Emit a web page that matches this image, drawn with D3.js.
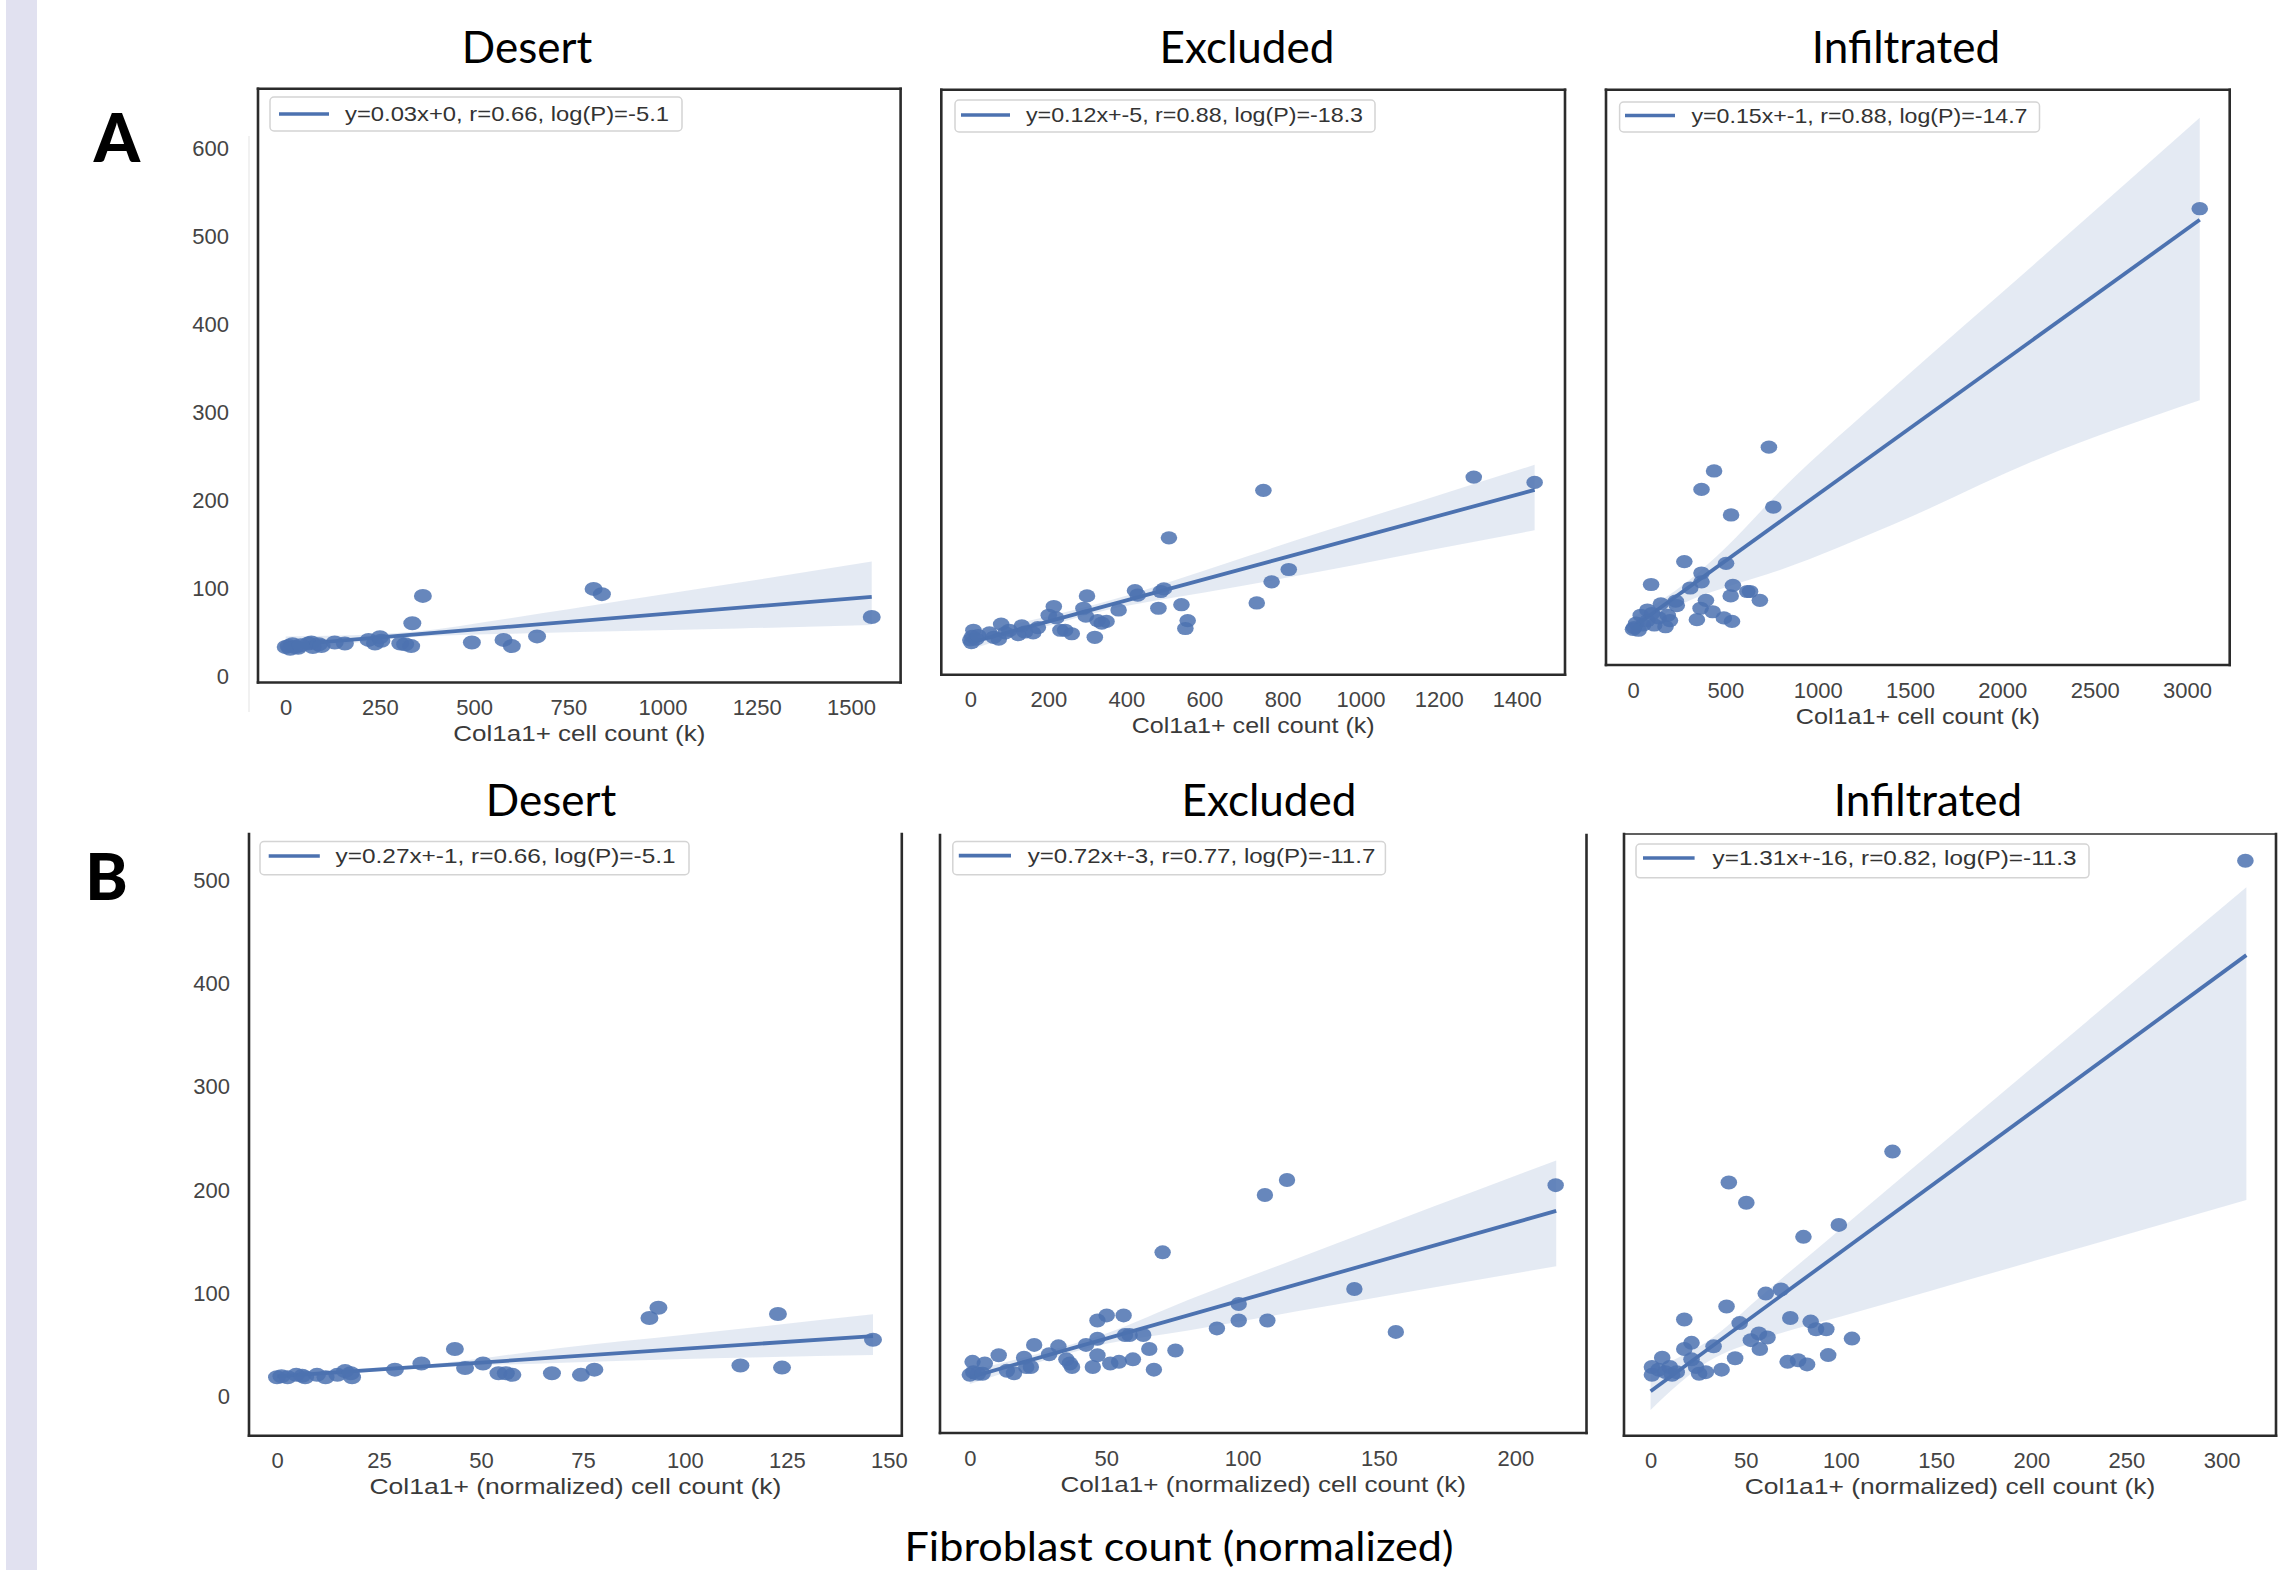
<!DOCTYPE html>
<html>
<head>
<meta charset="utf-8">
<script src="https://cdn.jsdelivr.net/npm/d3@7"></script>
<style>
  html, body { margin: 0; padding: 0; background: #fff; }
  svg { display: block; }
</style>
</head>
<body>
<svg id="chart" width="2285" height="1570"></svg>
<script>
// ---- data ----
const panelTitles = ["Desert", "Excluded", "Infiltrated"];
const rowLabels = ["A", "B"];
const legendA = ["y=0.03x+0, r=0.66, log(P)=-5.1", "y=0.12x+-5, r=0.88, log(P)=-18.3", "y=0.15x+-1, r=0.88, log(P)=-14.7"];
const legendB = ["y=0.27x+-1, r=0.66, log(P)=-5.1", "y=0.72x+-3, r=0.77, log(P)=-11.7", "y=1.31x+-16, r=0.82, log(P)=-11.3"];
const xLabelA = "Col1a1+ cell count (k)";
const xLabelB = "Col1a1+ (normalized) cell count (k)";
const supLabel = "Fibroblast count (normalized)";

const yTicksA = [0, 100, 200, 300, 400, 500, 600];
const yTicksB = [0, 100, 200, 300, 400, 500];
const xTicksADesert = [0, 250, 500, 750, 1000, 1250, 1500];
const xTicksAExcluded = [0, 200, 400, 600, 800, 1000, 1200, 1400];
const xTicksAInfiltrated = [0, 500, 1000, 1500, 2000, 2500, 3000];
const xTicksBDesert = [0, 25, 50, 75, 100, 125, 150];
const xTicksBExcluded = [0, 50, 100, 150, 200];
const xTicksBInfiltrated = [0, 50, 100, 150, 200, 250, 300];

const aDesertX = [0,8,18,25,33,60,72,68,130,157,220,237,250,254,304,317,333,336,364,494,578,600,667,817,839,1555,12,40,88,95];
const aDesertY = [33,34,36,33,32,37,33,38,38,37,41,37,44,40,37,36,34,60,91,38,41,34,45,99,93,67,31,35,36,34];
const aDesertFitX = [0, 1555];
const aDesertFitY = [35, 90];
const aDesertBandX = [0, 150, 330, 600, 900, 1200, 1555];
const aDesertBandLo = [27, 36, 44, 48, 51, 54, 58];
const aDesertBandHi = [45, 46, 50, 66, 86, 106, 130];

const aExcludedX = [0,8,3,15,49,73,79,90,123,132,161,173,201,214,220,231,243,260,290,296,299,326,337,349,319,380,422,429,482,488,496,509,541,557,551,734,751,772,816,1290,1446,5,20,60,100,140];
const aExcludedY = [41,52,38,42,49,42,59,49,47,57,49,55,69,79,66,52,52,48,77,68,91,63,60,62,44,75,97,92,77,96,99,157,81,63,54,83,211,107,121,226,220,45,46,44,52,50];
const aExcludedFitX = [0, 1446];
const aExcludedFitY = [38, 211.5];
const aExcludedBandX = [0, 200, 350, 600, 716, 900, 1200, 1446];
const aExcludedBandLo = [30, 57, 75, 95, 104, 119, 145, 165.5];
const aExcludedBandHi = [48, 68, 85, 120, 137, 163.5, 205.5, 240];

const aInfiltratedX = [5,30,17,54,42,78,103,115,151,139,176,188,98,232,237,278,310,346,366,371,371,371,395,431,439,492,504,531,529,541,536,619,634,687,736,760,3069,0,78,200];
const aInfiltratedY = [55,52,60,58,69,63,71,58,82,66,56,69,104,85,80,130,100,64,77,117,107,212,86,73,233,66,128,183,91,103,62,96,96,86,260,192,531,53,75,63];
const aInfiltratedFitX = [5, 3069];
const aInfiltratedFitY = [56, 518.4];
const aInfiltratedBandX = [5, 150, 300, 500, 800, 1418, 2200, 3069];
const aInfiltratedBandLo = [44, 67.7, 85.3, 100.5, 120.8, 173, 247, 313.4];
const aInfiltratedBandHi = [68, 85.7, 108.3, 145.5, 210.8, 329, 473, 634.4];

const bDesertX = [0,1.1,2.6,4.7,6.2,6.9,9.8,11.9,14.8,16.7,18.4,18.1,28.9,35.4,43.6,46.1,50.5,54.3,56.1,57.7,67.4,74.5,77.8,91.3,93.5,113.6,122.8,123.8,146.1];
const bDesertY = [18.6,19.6,18.6,21,20,18.6,21,18.6,21,24.6,18.6,22.6,26,32,46,27.6,32,22.6,22.6,21,22.6,21,26,76,86,30,80,28,55];
const bDesertFitX = [0, 146.1];
const bDesertFitY = [19.6, 58.6];
const bDesertBandX = [0, 20, 40, 70, 100, 146.1];
const bDesertBandLo = [16.6, 23, 28.3, 32.8, 36.3, 40.1];
const bDesertBandHi = [22.6, 27, 32.3, 47.3, 59.8, 79.6];

const bExcludedX = [0,1,1.3,3,5.5,4.7,10.6,13.6,16.2,19.9,20.7,22.4,23.6,29.1,32.5,35.4,36.7,37.5,42.6,45.1,46.8,50.2,46.8,46.8,51.5,54.7,56.4,56.9,58.6,59.8,63.6,65.8,67.5,70.7,75.4,90.6,98.6,98.6,108.2,109.1,116.3,141,156.2,214.8];
const bExcludedY = [21,33.6,23.6,22,32,22,40,25,22.6,37.6,28.6,28.6,50,41,48.6,36,32,28.6,50,28.6,73.6,78.6,56,40,32,33.6,78.6,59.6,59.6,36,59.6,46,26,139.7,44.6,66,89.7,73.6,195.3,73.6,209.8,104.2,62.6,204.8];
const bExcludedFitX = [0, 215];
const bExcludedFitY = [18.6, 179.9];
const bExcludedBandX = [0, 25, 50, 80, 120, 170, 215];
const bExcludedBandLo = [12, 33, 51, 64, 82.5, 105.7, 126.2];
const bExcludedBandHi = [25, 41.5, 61, 93.4, 133.7, 184, 228.8];

const bInfiltratedX = [0.7,0.7,4.2,6.1,7.8,10.1,11.3,13.7,17.7,17.7,21.5,21.5,23.9,25.5,29,33.1,37.3,39.9,41.1,44.4,46.8,50.3,52.7,56.9,57.4,61.4,60.5,68.5,72,73.4,77.5,80.3,82.2,84.1,86.9,92.3,93.3,98.9,105.8,127.1,312.5];
const bInfiltratedY = [28.6,21,26,37.6,23.6,28.6,21,23.6,74.6,46,52,36,28.6,22,23.6,48.6,26,87.2,207.3,37,71.1,187.8,54.6,61.1,46,57.1,99.7,103.7,33.6,76.1,35.1,154.7,31.1,72.6,65.1,65.1,40.1,166.3,56.1,237.3,519.2];
const bInfiltratedFitX = [0, 313];
const bInfiltratedFitY = [5.1, 427.7];
const bInfiltratedBandX = [0, 30, 60, 100, 150, 230, 313];
const bInfiltratedBandLo = [-13, 33.6, 56.3, 77.4, 104, 146.4, 190.3];
const bInfiltratedBandHi = [26, 53.6, 100.5, 162.6, 240.3, 364.7, 493.5];

// ---- layout (pixel positions measured on the picture) ----
const blue = "#4c72b0";
const numFont = "'Liberation Sans', Arial, sans-serif";
const titleFont = "Lato, 'Open Sans', sans-serif";
const fmt = d3.format("d");

const svg = d3.select("#chart");
svg.append("rect").attr("x", 6).attr("y", 0).attr("width", 31).attr("height", 1570).attr("fill", "#e1e1f0");

const yA = d3.scaleLinear().domain([0, 600]).range([676, 148]);
const yB = d3.scaleLinear().domain([0, 500]).range([1396.5, 880.5]);

const panels = [
  {xs: aDesertX, ys: aDesertY, fx: aDesertFitX, fy: aDesertFitY, bx: aDesertBandX, lo: aDesertBandLo, hi: aDesertBandHi,
   ticks: xTicksADesert, xr: [285.7, 851], y: yA, box: [258, 88.7, 900.6, 682.5], spines: "lrtb",
   legend: legendA[0], lg: [270, 97, 682, 131, 279, 329, 345, 114, 324], title: panelTitles[0], tx: 527, ty: 63,
   xlabel: xLabelA, xlw: 252, r: [9, 7]},
  {xs: aExcludedX, ys: aExcludedY, fx: aExcludedFitX, fy: aExcludedFitY, bx: aExcludedBandX, lo: aExcludedBandLo, hi: aExcludedBandHi,
   ticks: xTicksAExcluded, xr: [970.3, 1516.7], y: yA, box: [941.3, 89.7, 1565, 674.7], spines: "lrtb",
   legend: legendA[1], lg: [955, 100, 1375, 132, 961, 1010, 1026, 115, 337], title: panelTitles[1], tx: 1247, ty: 63,
   xlabel: xLabelA, xlw: 243, r: [8.3, 6.6]},
  {xs: aInfiltratedX, ys: aInfiltratedY, fx: aInfiltratedFitX, fy: aInfiltratedFitY, bx: aInfiltratedBandX, lo: aInfiltratedBandLo, hi: aInfiltratedBandHi,
   ticks: xTicksAInfiltrated, xr: [1633, 2187], y: yA, box: [1606, 89.7, 2229.7, 665], spines: "lrtb",
   legend: legendA[2], lg: [1619.6, 102, 2039.5, 132, 1625, 1675, 1691.5, 115.5, 336], title: panelTitles[2], tx: 1906, ty: 63,
   xlabel: xLabelA, xlw: 244, r: [8.3, 6.6]},
  {xs: bDesertX, ys: bDesertY, fx: bDesertFitX, fy: bDesertFitY, bx: bDesertBandX, lo: bDesertBandLo, hi: bDesertBandHi,
   ticks: xTicksBDesert, xr: [277, 888.9], y: yB, box: [249, 834, 901.8, 1435.7], spines: "lrb",
   legend: legendB[0], lg: [260, 841.6, 689, 874.7, 268.7, 319.8, 335.6, 856, 340], title: panelTitles[0], tx: 551, ty: 816,
   xlabel: xLabelB, xlw: 412, r: [9, 7]},
  {xs: bExcludedX, ys: bExcludedY, fx: bExcludedFitX, fy: bExcludedFitY, bx: bExcludedBandX, lo: bExcludedBandLo, hi: bExcludedBandHi,
   ticks: xTicksBExcluded, xr: [969.8, 1515.3], y: yB, box: [940, 835, 1586.5, 1433], spines: "lrb",
   legend: legendB[1], lg: [952.8, 841.6, 1385.4, 874.7, 958.8, 1011, 1027.7, 855.6, 347.6], title: panelTitles[1], tx: 1269, ty: 816,
   xlabel: xLabelB, xlw: 405.5, r: [8.2, 7]},
  {xs: bInfiltratedX, ys: bInfiltratedY, fx: bInfiltratedFitX, fy: bInfiltratedFitY, bx: bInfiltratedBandX, lo: bInfiltratedBandLo, hi: bInfiltratedBandHi,
   ticks: xTicksBInfiltrated, xr: [1650.6, 2221.6], y: yB, box: [1624, 834, 2276, 1435.7], spines: "lrtb",
   legend: legendB[2], lg: [1636, 844, 2089, 877.8, 1643, 1694.6, 1712.6, 858, 364], title: panelTitles[2], tx: 1928, ty: 816,
   xlabel: xLabelB, xlw: 410.5, r: [8.3, 7]}
];

function drawPanel(p){
  const g = svg.append("g");
  const [x0, y0, x1, y1] = p.box;
  const x = d3.scaleLinear().domain([p.ticks[0], p.ticks[p.ticks.length-1]]).range(p.xr);
  const y = p.y;

  // confidence band
  const band = p.bx.map((v, i) => ({x: v, lo: p.lo[i], hi: p.hi[i]}));
  g.append("path")
   .datum(band)
   .attr("d", d3.area().x(d => x(d.x)).y0(d => y(d.lo)).y1(d => y(d.hi)).curve(d3.curveMonotoneX))
   .attr("fill", blue).attr("fill-opacity", 0.15);

  // fit line
  g.append("path")
   .datum(p.fx.map((v, i) => [v, p.fy[i]]))
   .attr("d", d3.line().x(d => x(d[0])).y(d => y(d[1])))
   .attr("stroke", blue).attr("stroke-width", 3.8).attr("fill", "none");

  // points
  g.selectAll("ellipse.pt")
   .data(p.xs.map((v, i) => [v, p.ys[i]]))
   .enter().append("ellipse")
   .attr("class", "pt")
   .attr("cx", d => x(d[0])).attr("cy", d => y(d[1]))
   .attr("rx", p.r[0]).attr("ry", p.r[1])
   .attr("fill", blue).attr("fill-opacity", 0.85);

  // spines
  const sp = {l: [x0, y0, x0, y1], r: [x1, y0, x1, y1], t: [x0, y0, x1, y0], b: [x0, y1, x1, y1]};
  p.spines.split("").forEach(k => {
    const s = sp[k];
    g.append("line").attr("x1", s[0]).attr("y1", s[1]).attr("x2", s[2]).attr("y2", s[3])
     .attr("stroke", "#2b2b2b").attr("stroke-width", (k == "t" && y0 > 800) ? 1.4 : 2.6)
     .attr("stroke-linecap", "square");
  });

  // x tick labels through an axis
  const ax = g.append("g")
   .attr("transform", `translate(0,${y1 + 25})`)
   .call(d3.axisBottom(x).tickValues(p.ticks).tickFormat(fmt).tickSize(0).tickPadding(0));
  ax.select(".domain").remove();
  ax.selectAll("text").attr("font-family", numFont).attr("font-size", 22).attr("fill", "#444")
    .attr("dy", "0.35em");

  g.append("text")
   .attr("x", (x0 + x1) / 2).attr("y", y1 + 51).attr("dy", "0.35em")
   .attr("text-anchor", "middle").attr("font-family", numFont).attr("font-size", 22).attr("fill", "#3a3a3a")
   .attr("textLength", p.xlw).attr("lengthAdjust", "spacingAndGlyphs")
   .text(p.xlabel);

  // legend
  const lg = p.lg;
  g.append("rect").attr("x", lg[0]).attr("y", lg[1]).attr("width", lg[2] - lg[0]).attr("height", lg[3] - lg[1])
   .attr("rx", 4).attr("fill", "#fff").attr("fill-opacity", 0.85).attr("stroke", "#d4d4d4").attr("stroke-width", 1.5);
  g.append("line").attr("x1", lg[4]).attr("x2", lg[5]).attr("y1", lg[7]).attr("y2", lg[7])
   .attr("stroke", blue).attr("stroke-width", 3.6);
  g.append("text").attr("x", lg[6]).attr("y", lg[7]).attr("dy", "0.35em")
   .attr("font-family", numFont).attr("font-size", 21).attr("fill", "#333")
   .attr("textLength", lg[8]).attr("lengthAdjust", "spacingAndGlyphs")
   .text(p.legend);

  // title
  svg.append("text").attr("x", p.tx).attr("y", p.ty).attr("text-anchor", "middle")
   .attr("font-family", titleFont).attr("font-size", 44).attr("fill", "#000")
   .text(p.title);
}

panels.forEach(drawPanel);

// shared y axes (left column only)
function drawY(scale, ticks, xRight){
  const ay = svg.append("g")
   .attr("transform", `translate(${xRight},0)`)
   .call(d3.axisLeft(scale).tickValues(ticks).tickFormat(fmt).tickSize(0).tickPadding(0));
  ay.select(".domain").remove();
  ay.selectAll("text").attr("font-family", numFont).attr("font-size", 22).attr("fill", "#444");
}
drawY(yA, yTicksA, 229);
drawY(yB, yTicksB, 230);

// faint spine of the pasted y-axis in row A
svg.append("line").attr("x1", 249).attr("x2", 249).attr("y1", 136).attr("y2", 712)
   .attr("stroke", "#ececec").attr("stroke-width", 1.5);

// row letters
svg.append("text").attr("x", 117).attr("y", 162).attr("text-anchor", "middle")
   .attr("font-family", titleFont).attr("font-weight", 900).attr("font-size", 66).text(rowLabels[0]);
svg.append("text").attr("x", 106.5).attr("y", 899.5).attr("text-anchor", "middle")
   .attr("font-family", titleFont).attr("font-weight", 900).attr("font-size", 64).text(rowLabels[1]);

// common x label
svg.append("text").attr("x", 1179).attr("y", 1561).attr("text-anchor", "middle")
   .attr("font-family", titleFont).attr("font-size", 40).attr("fill", "#000")
   .attr("textLength", 549).attr("lengthAdjust", "spacingAndGlyphs")
   .text(supLabel);
</script>
</body>
</html>
